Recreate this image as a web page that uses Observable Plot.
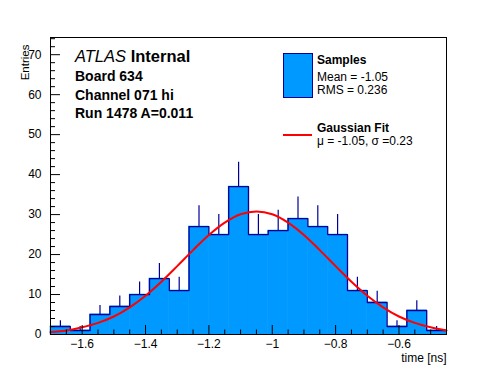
<!DOCTYPE html>
<html><head><meta charset="utf-8">
<script src="https://cdn.jsdelivr.net/npm/d3@7"></script>
<script src="https://cdn.jsdelivr.net/npm/@observablehq/plot@0.6"></script>
<style>
body{margin:0;background:#fff;font-family:"Liberation Sans",Arial,Helvetica,sans-serif;}
#wrap{position:relative;width:496px;height:372px;overflow:hidden;}
.ann{position:absolute;white-space:nowrap;color:#000;line-height:1;}
</style></head><body>
<div id="wrap"></div>
<script>
// ---- data ----
const binEdges = [-1.7, -1.6375, -1.575, -1.5125, -1.45, -1.3875, -1.325, -1.2625, -1.2, -1.1375, -1.075,
                  -1.0125, -0.95, -0.8875, -0.825, -0.7625, -0.7, -0.6375, -0.575, -0.5125, -0.45];
const counts = [2, 1, 5, 7, 10, 14, 11, 27, 25, 37, 25, 26, 29, 27, 25, 11, 8, 2, 6, 1];
const fitX = [-1.70, -1.65, -1.60, -1.55, -1.50, -1.45, -1.40, -1.35, -1.30, -1.25, -1.20, -1.15, -1.10,
              -1.05, -1.00, -0.95, -0.90, -0.85, -0.80, -0.75, -0.70, -0.65, -0.60, -0.55, -0.50, -0.45];
const fitY = [0.6, 1.0, 1.8, 2.9, 4.5, 6.8, 9.7, 13.2, 17.1, 21.1, 24.9, 28.0, 30.1,
              30.8, 30.1, 28.0, 24.9, 21.1, 17.1, 13.2, 9.7, 6.8, 4.5, 2.9, 1.8, 1.0];
const xMajorTicks = [-1.6, -1.4, -1.2, -1.0, -0.8, -0.6];
const xMinorTicks = [-1.7, -1.65, -1.55, -1.5, -1.45, -1.35, -1.3, -1.25, -1.15, -1.1, -1.05,
                     -0.95, -0.9, -0.85, -0.75, -0.7, -0.65, -0.55, -0.5, -0.45];
const yMajorTicks = [0, 10, 20, 30, 40, 50, 60, 70];
const yMinorTicks = [2, 4, 6, 8, 12, 14, 16, 18, 22, 24, 26, 28, 32, 34, 36, 38, 42, 44, 46, 48,
                     52, 54, 56, 58, 62, 64, 66, 68, 72, 74];
const xDomain = [-1.7, -0.45];
const yDomain = [0, 74.3];
const annotationLines = ["Board 634", "Channel 071 hi", "Run 1478 A=0.011"];
const legendSamples = ["Samples", "Mean = -1.05", "RMS = 0.236"];
const legendFit = ["Gaussian Fit", "\u03bc = -1.05, \u03c3 =0.23"];

// ---- tables ----
const bins = counts.map((c, i) => ({x1: binEdges[i], x2: binEdges[i + 1], y: c}));
const steps = binEdges.map((e, i) => ({x: e, y: counts[Math.min(i, counts.length - 1)]}));
const fit = fitX.map((x, i) => ({x, y: fitY[i]}));

const FILL = "rgb(0,153,255)";
const EDGE = "#000099";
const fmt = d => (d < 0 ? "\u2212" : "") + Math.abs(d);

const chart = Plot.plot({
  width: 496, height: 372,
  marginLeft: 50, marginRight: 50, marginTop: 37, marginBottom: 38,
  style: {fontFamily: "'Liberation Sans', Arial, Helvetica, sans-serif", background: "white", color: "black"},
  x: {domain: xDomain},
  y: {domain: yDomain},
  marks: [
    Plot.rectY(bins, {x1: "x1", x2: "x2", y: "y", fill: FILL, stroke: FILL, strokeWidth: 0.6}),
    Plot.line(steps, {x: "x", y: "y", curve: "step-after", stroke: EDGE, strokeWidth: 1.3}),
    Plot.ruleX(bins, {x: d => (d.x1 + d.x2) / 2, y1: "y", y2: d => d.y + Math.sqrt(d.y), stroke: EDGE, strokeWidth: 1.2}),
    Plot.line(fit, {x: "x", y: "y", curve: "catmull-rom", stroke: "#ff0000", strokeWidth: 2}),
    Plot.axisX(xMajorTicks, {tickSize: -9, tickFormat: () => "", label: null, strokeWidth: 1}),
    Plot.axisX(xMinorTicks, {tickSize: -4.5, tickFormat: () => "", label: null, strokeWidth: 1}),
    Plot.axisX(xMajorTicks, {tickSize: 0, tickPadding: 5, tickFormat: fmt, label: null, fontSize: 12}),
    Plot.axisY(yMajorTicks, {tickSize: -10, tickFormat: () => "", label: null, strokeWidth: 1}),
    Plot.axisY(yMinorTicks, {tickSize: -5, tickFormat: () => "", label: null, strokeWidth: 1}),
    Plot.axisY(yMajorTicks, {tickSize: 0, tickPadding: 9, tickFormat: fmt, label: null, fontSize: 12}),
    Plot.frame({stroke: "black", strokeWidth: 1}),
    Plot.text(["time [ns]"], {frameAnchor: "bottom-right", textAnchor: "end", lineAnchor: "bottom", dy: 27, fontSize: 12}),
    Plot.text(["Entries"], {frameAnchor: "top-left", textAnchor: "end", rotate: -90, dx: -30, dy: 7, fontSize: 11.5})
  ]
});
const wrap = document.getElementById("wrap");
wrap.appendChild(chart);

function addDiv(html, left, top, css) {
  const d = document.createElement("div");
  d.className = "ann";
  d.innerHTML = html;
  d.style.left = left + "px";
  d.style.top = top + "px";
  Object.assign(d.style, css || {});
  wrap.appendChild(d);
  return d;
}
// annotation block
addDiv('<i>ATLAS</i> <b>Internal</b>', 75, 48, {fontSize: "16.5px"});
annotationLines.forEach((t, i) => addDiv(t, 75, 69 + i * 18.5, {fontSize: "14px", fontWeight: "bold"}));
// legend
addDiv("", 283, 53, {width: "28px", height: "43px", background: FILL, border: "1px solid " + EDGE});
addDiv(legendSamples[0], 317, 54, {fontSize: "12px", fontWeight: "bold"});
addDiv(legendSamples[1], 317, 71, {fontSize: "12px"});
addDiv(legendSamples[2], 317, 84, {fontSize: "12px"});
addDiv("", 283, 134, {width: "29px", height: "2px", background: "#ff0000"});
addDiv(legendFit[0], 317, 122, {fontSize: "12px", fontWeight: "bold"});
addDiv(legendFit[1], 317, 135, {fontSize: "12px"});
</script>
</body></html>
